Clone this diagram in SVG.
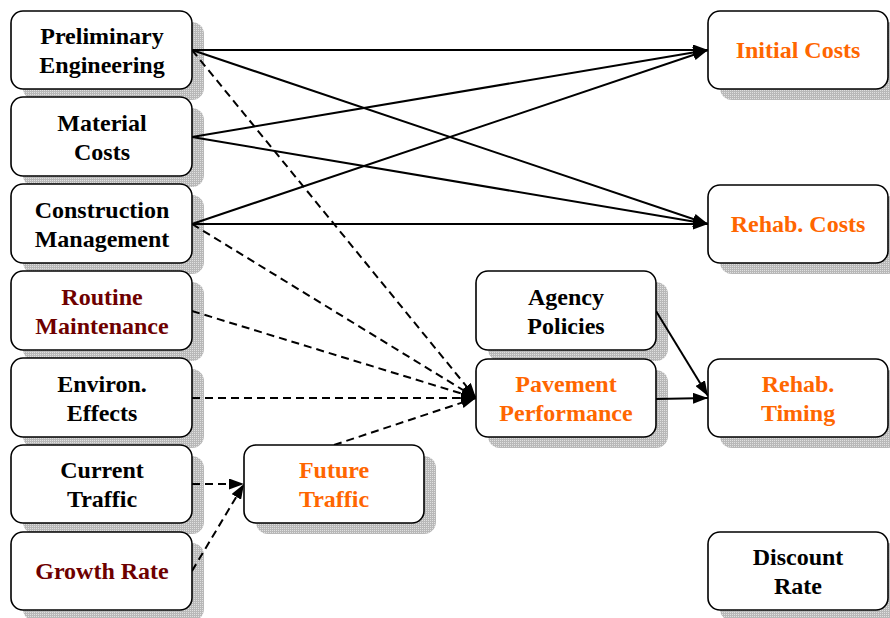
<svg xmlns="http://www.w3.org/2000/svg" width="890" height="618" viewBox="0 0 890 618">
  <style>
    .box { fill: #ffffff; stroke: #000000; stroke-width: 1.6; }
    .shadow { fill: url(#hatch); }
    .lbl { font-family: "Liberation Serif", "Times New Roman", serif; font-weight: bold; font-size: 24px; text-anchor: middle; fill: #000000; }
    .out { fill: #ff6600; }
    .dark { fill: #6e0000; }
    .solid { fill: none; stroke: #000000; stroke-width: 2; marker-end: url(#arrow); }
    .dash { fill: none; stroke: #000000; stroke-width: 2; stroke-dasharray: 8 5; marker-end: url(#arrow); }
  </style>
  <defs>
    <pattern id="hatch" width="2" height="2" patternUnits="userSpaceOnUse">
      <rect width="2" height="2" fill="#b8b8b8"/>
      <rect width="1" height="1" fill="#e0e0e0"/>
    </pattern>
    <marker id="arrow" viewBox="0 0 15 11" refX="15" refY="5.5" markerWidth="15" markerHeight="11" markerUnits="userSpaceOnUse" orient="auto">
      <path d="M0,0 L15,5.5 L0,11 Z" fill="#000000"/>
    </marker>
  </defs>

  <rect width="890" height="618" fill="#ffffff"/>

  <!-- drop shadows -->
  <g id="shadows">
    <rect class="shadow" x="23" y="22" width="181" height="78" rx="12"/>
    <rect class="shadow" x="23" y="108" width="181" height="79" rx="12"/>
    <rect class="shadow" x="23" y="195" width="181" height="79" rx="12"/>
    <rect class="shadow" x="23" y="282" width="181" height="79" rx="12"/>
    <rect class="shadow" x="23" y="369" width="181" height="79" rx="12"/>
    <rect class="shadow" x="23" y="456" width="181" height="78" rx="12"/>
    <rect class="shadow" x="23" y="543" width="181" height="78" rx="12"/>
    <rect class="shadow" x="256" y="456" width="180" height="78" rx="12"/>
    <rect class="shadow" x="488" y="282" width="180" height="79" rx="12"/>
    <rect class="shadow" x="488" y="370" width="180" height="78" rx="12"/>
    <rect class="shadow" x="720" y="22" width="180" height="78" rx="12"/>
    <rect class="shadow" x="720" y="196" width="180" height="78" rx="12"/>
    <rect class="shadow" x="720" y="370" width="180" height="78" rx="12"/>
    <rect class="shadow" x="720" y="543" width="180" height="78" rx="12"/>
  </g>

  <!-- connectors -->
  <g id="connectors">
    <line class="solid" x1="192" y1="50" x2="708" y2="50"/>
    <line class="solid" x1="192" y1="50" x2="708" y2="224"/>
    <line class="solid" x1="192" y1="137" x2="708" y2="50"/>
    <line class="solid" x1="192" y1="137" x2="708" y2="224"/>
    <line class="solid" x1="192" y1="224" x2="708" y2="50"/>
    <line class="solid" x1="192" y1="224" x2="708" y2="224"/>
    <line class="solid" x1="656" y1="311" x2="708" y2="396"/>
    <line class="solid" x1="656" y1="399" x2="708" y2="398"/>
    <line class="dash" x1="192" y1="50" x2="476" y2="398"/>
    <line class="dash" x1="192" y1="224" x2="476" y2="398"/>
    <line class="dash" x1="192" y1="311" x2="476" y2="398"/>
    <line class="dash" x1="192" y1="398" x2="476" y2="398"/>
    <line class="dash" x1="334" y1="445" x2="476" y2="398"/>
    <line class="dash" x1="192" y1="484" x2="244" y2="484"/>
    <line class="dash" x1="192" y1="571" x2="244" y2="484"/>
  </g>

  <g id="preliminary-engineering">
    <rect class="box" x="11" y="11" width="181" height="78" rx="12"/>
    <text class="lbl" x="102" y="44">Preliminary</text>
    <text class="lbl" x="102" y="73">Engineering</text>
  </g>
  <g id="material-costs">
    <rect class="box" x="11" y="97" width="181" height="79" rx="12"/>
    <text class="lbl" x="102" y="131">Material</text>
    <text class="lbl" x="102" y="160">Costs</text>
  </g>
  <g id="construction-management">
    <rect class="box" x="11" y="184" width="181" height="79" rx="12"/>
    <text class="lbl" x="102" y="218">Construction</text>
    <text class="lbl" x="102" y="247">Management</text>
  </g>
  <g id="routine-maintenance">
    <rect class="box" x="11" y="271" width="181" height="79" rx="12"/>
    <text class="lbl dark" x="102" y="305">Routine</text>
    <text class="lbl dark" x="102" y="334">Maintenance</text>
  </g>
  <g id="environ-effects">
    <rect class="box" x="11" y="358" width="181" height="79" rx="12"/>
    <text class="lbl" x="102" y="392">Environ.</text>
    <text class="lbl" x="102" y="421">Effects</text>
  </g>
  <g id="current-traffic">
    <rect class="box" x="11" y="445" width="181" height="78" rx="12"/>
    <text class="lbl" x="102" y="478">Current</text>
    <text class="lbl" x="102" y="507">Traffic</text>
  </g>
  <g id="growth-rate">
    <rect class="box" x="11" y="532" width="181" height="78" rx="12"/>
    <text class="lbl dark" x="102" y="579">Growth Rate</text>
  </g>
  <g id="future-traffic">
    <rect class="box" x="244" y="445" width="180" height="78" rx="12"/>
    <text class="lbl out" x="334" y="478">Future</text>
    <text class="lbl out" x="334" y="507">Traffic</text>
  </g>
  <g id="agency-policies">
    <rect class="box" x="476" y="271" width="180" height="79" rx="12"/>
    <text class="lbl" x="566" y="305">Agency</text>
    <text class="lbl" x="566" y="334">Policies</text>
  </g>
  <g id="pavement-performance">
    <rect class="box" x="476" y="359" width="180" height="78" rx="12"/>
    <text class="lbl out" x="566" y="392">Pavement</text>
    <text class="lbl out" x="566" y="421">Performance</text>
  </g>
  <g id="initial-costs">
    <rect class="box" x="708" y="11" width="180" height="78" rx="12"/>
    <text class="lbl out" x="798" y="58">Initial Costs</text>
  </g>
  <g id="rehab-costs">
    <rect class="box" x="708" y="185" width="180" height="78" rx="12"/>
    <text class="lbl out" x="798" y="232">Rehab. Costs</text>
  </g>
  <g id="rehab-timing">
    <rect class="box" x="708" y="359" width="180" height="78" rx="12"/>
    <text class="lbl out" x="798" y="392">Rehab.</text>
    <text class="lbl out" x="798" y="421">Timing</text>
  </g>
  <g id="discount-rate">
    <rect class="box" x="708" y="532" width="180" height="78" rx="12"/>
    <text class="lbl" x="798" y="565">Discount</text>
    <text class="lbl" x="798" y="594">Rate</text>
  </g>
</svg>
